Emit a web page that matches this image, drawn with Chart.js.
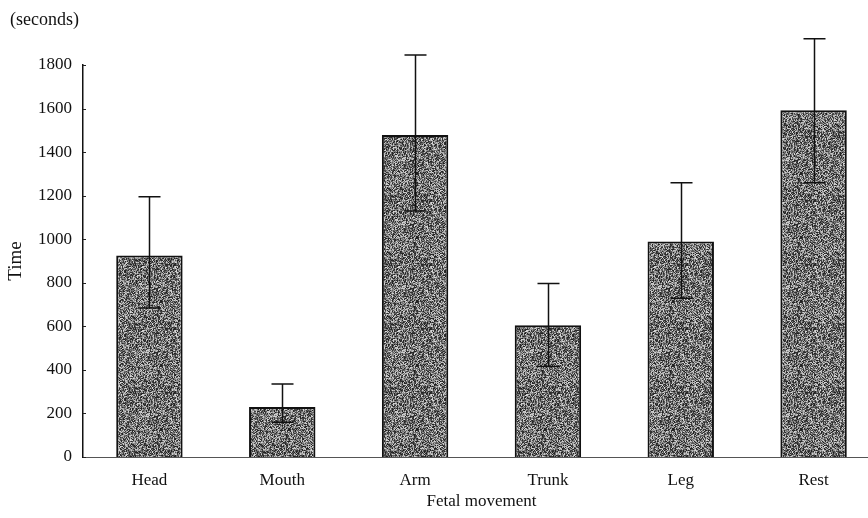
<!DOCTYPE html>
<html>
<head>
<meta charset="utf-8">
<script src="https://cdn.jsdelivr.net/npm/chart.js@4/dist/chart.umd.min.js"></script>
<style>
  html, body { margin: 0; padding: 0; background: #fff; overflow: hidden; }
  #wrap { width: 900px; height: 518px; position: relative; }
</style>
</head>
<body>
<div id="wrap"><canvas id="c"></canvas></div>
<script>
// ---- data ----
const categories = ['Head', 'Mouth', 'Arm', 'Trunk', 'Leg', 'Rest'];
const meanTime   = [925, 230, 1478, 605, 990, 1592];
const errUpper   = [1195, 335, 1846, 797, 1259, 1921];
const errLower   = [684, 160, 1130, 415, 729, 1259];
const yTickValues = [0, 200, 400, 600, 800, 1000, 1200, 1400, 1600, 1800];
const yTitle = 'Time';
const xTitle = 'Fetal movement';
const unitLabel = '(seconds)';

const FONT = "'Liberation Serif', 'DejaVu Serif', serif";

// textured fill (deterministic dither) to imitate the halftone bars
function makePattern() {
  const pc = document.createElement('canvas');
  pc.width = 64; pc.height = 64;
  const p = pc.getContext('2d');
  const img = p.createImageData(64, 64);
  let s = 12345;
  for (let i = 0; i < 64 * 64; i++) {
    s = (s * 1103515245 + 12345) & 0x7fffffff;
    const r = ((s >> 8) % 1000) / 1000;
    const v = Math.round(30 + 190 * Math.pow(r, 1.25));
    img.data[i * 4] = v; img.data[i * 4 + 1] = v; img.data[i * 4 + 2] = v; img.data[i * 4 + 3] = 255;
  }
  p.putImageData(img, 0, 0);
  return p.createPattern(pc, 'repeat');
}

const errorBars = {
  id: 'errorBars',
  afterDatasetsDraw(chart) {
    const { ctx, scales: { x, y } } = chart;
    const meta = chart.getDatasetMeta(0);
    ctx.save();
    ctx.strokeStyle = '#111';
    ctx.lineWidth = 1.5;
    meta.data.forEach((bar, i) => {
      const cx = Math.round(bar.x) + 0.5;
      const yHi = y.getPixelForValue(errUpper[i]);
      const yLo = y.getPixelForValue(errLower[i]);
      const half = 11;
      ctx.beginPath();
      ctx.moveTo(cx, yHi); ctx.lineTo(cx, yLo);
      ctx.moveTo(cx - half, yHi); ctx.lineTo(cx + half, yHi);
      ctx.moveTo(cx - half, yLo); ctx.lineTo(cx + half, yLo);
      ctx.stroke();
    });
    ctx.restore();
  }
};

const extras = {
  id: 'extras',
  afterDraw(chart) {
    const { ctx, scales: { y }, chartArea } = chart;
    ctx.save();
    // inward tick marks on y axis
    ctx.strokeStyle = '#222';
    ctx.lineWidth = 1;
    yTickValues.forEach(v => {
      const py = Math.round(y.getPixelForValue(v)) + 0.5;
      ctx.beginPath();
      ctx.moveTo(chartArea.left, py);
      ctx.lineTo(chartArea.left + 3, py);
      ctx.stroke();
    });
    // unit label
    ctx.fillStyle = '#111';
    ctx.font = '18px ' + FONT;
    ctx.textBaseline = 'middle';
    ctx.textAlign = 'left';
    ctx.fillText(unitLabel, 10, 20);
    ctx.restore();
  }
};

const ctx = document.getElementById('c').getContext('2d');
new Chart(ctx, {
  type: 'bar',
  data: {
    labels: categories,
    datasets: [{
      data: meanTime,
      backgroundColor: makePattern(),
      borderColor: '#111',
      borderWidth: 2,
      borderSkipped: 'bottom',
      categoryPercentage: 1.0,
      barPercentage: 0.5
    }]
  },
  options: {
    responsive: true,
    maintainAspectRatio: false,
    animation: false,
    devicePixelRatio: 1,
    layout: { padding: { top: 65, right: 20, left: 0, bottom: 0 } },
    plugins: {
      legend: { display: false },
      tooltip: { enabled: false },
      title: { display: false }
    },
    scales: {
      x: {
        afterFit(scale) { scale.height = 61; },
        grid: { display: false, drawTicks: false },
        border: { display: true, color: '#555', width: 1 },
        ticks: { color: '#111', font: { family: FONT, size: 17 }, padding: 13 },
        title: { display: true, text: xTitle, color: '#111', font: { family: FONT, size: 17 }, padding: { top: 2, bottom: 6 } }
      },
      y: {
        min: 0,
        max: 1800,
        afterBuildTicks(scale) { scale.ticks = yTickValues.map(v => ({ value: v })); },
        afterFit(scale) { scale.width = 83; },
        grid: { display: false, drawTicks: false },
        border: { display: true, color: '#111', width: 1.5 },
        ticks: { color: '#111', font: { family: FONT, size: 17 }, padding: 11, callback: v => String(v) },
        title: { display: true, text: yTitle, color: '#111', font: { family: FONT, size: 19 }, padding: { top: 5, bottom: 0 } }
      }
    }
  },
  plugins: [errorBars, extras]
});
</script>
</body>
</html>
